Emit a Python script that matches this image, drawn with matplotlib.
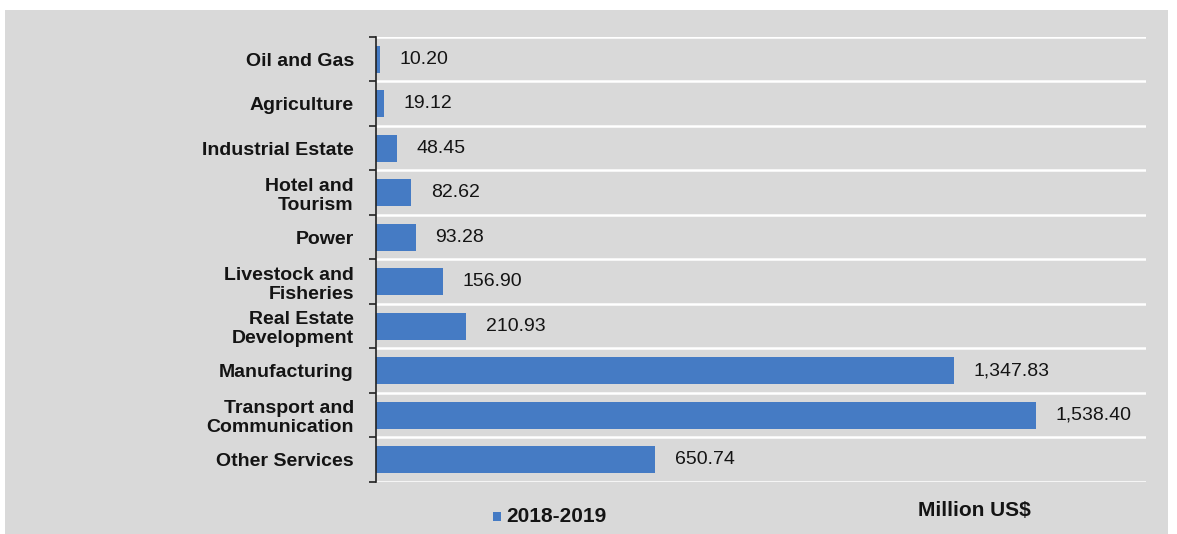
import matplotlib.pyplot as plt
from matplotlib.patches import Rectangle

plt.rcParams['font.family'] = ['Liberation Sans', 'DejaVu Sans']

sectors = ['Oil and Gas', 'Agriculture', 'Industrial Estate', 'Hotel and\nTourism', 'Power',
           'Livestock and\nFisheries', 'Real Estate\nDevelopment', 'Manufacturing',
           'Transport and\nCommunication', 'Other Services']
values = [10.20, 19.12, 48.45, 82.62, 93.28, 156.90, 210.93, 1347.83, 1538.40, 650.74]
series_name = '2018-2019'
unit_label = 'Million US$'

bar_color = '#457bc4'

fig = plt.figure(figsize=(11.77, 5.34), dpi=100)
fig.patch.set_facecolor('white')
# grey panel behind the chart
fig.add_artist(Rectangle((5 / 1177, 0), 1163 / 1177, 1 - 10 / 534, transform=fig.transFigure,
                         facecolor='#d9d9d9', edgecolor='none', zorder=0))

ax = fig.add_axes([376 / 1177, 1 - 482 / 534, 770 / 1177, 445 / 534])
ax.set_facecolor('none')

pos = list(range(len(sectors)))
bars = ax.barh(pos, values, height=0.6, color=bar_color, zorder=3)
ax.set_ylim(len(sectors) - 0.5, -0.5)
ax.set_xlim(0, 1795)

for b, v in zip(bars, values):
    ax.annotate(f'{v:,.2f}', (b.get_width(), b.get_y() + b.get_height() / 2),
                xytext=(14, 0), textcoords='offset points', va='center', ha='left',
                fontsize=14, color='#141414')

ax.set_yticks(pos)
ax.set_yticklabels(sectors, fontsize=14, fontweight='bold', linespacing=1.15, color='#141414')
ax.tick_params(axis='y', which='major', length=0, pad=16)
ax.set_yticks([p - 0.5 for p in pos] + [len(sectors) - 0.5], minor=True)
ax.tick_params(axis='y', which='minor', length=5, width=1.2, color='#222222')
ax.grid(axis='y', which='minor', color='white', linewidth=1.8, zorder=1)
ax.set_xticks([])

for s in ['top', 'right', 'bottom']:
    ax.spines[s].set_visible(False)
ax.spines['left'].set_color('#222222')
ax.spines['left'].set_linewidth(1.2)
ax.spines['left'].set_zorder(4)

# legend and unit label
fig.add_artist(Rectangle((493 / 1177, 1 - 521 / 534), 8 / 1177, 9 / 534, transform=fig.transFigure,
                         facecolor=bar_color, edgecolor='none'))
fig.text(506 / 1177, 1 - 516 / 534, series_name, fontsize=15, fontweight='bold',
         va='center', ha='left', color='#141414')
fig.text(918 / 1177, 1 - 510 / 534, unit_label, fontsize=15, fontweight='bold',
         va='center', ha='left', color='#141414')

fig.savefig('out.png', dpi=100)
